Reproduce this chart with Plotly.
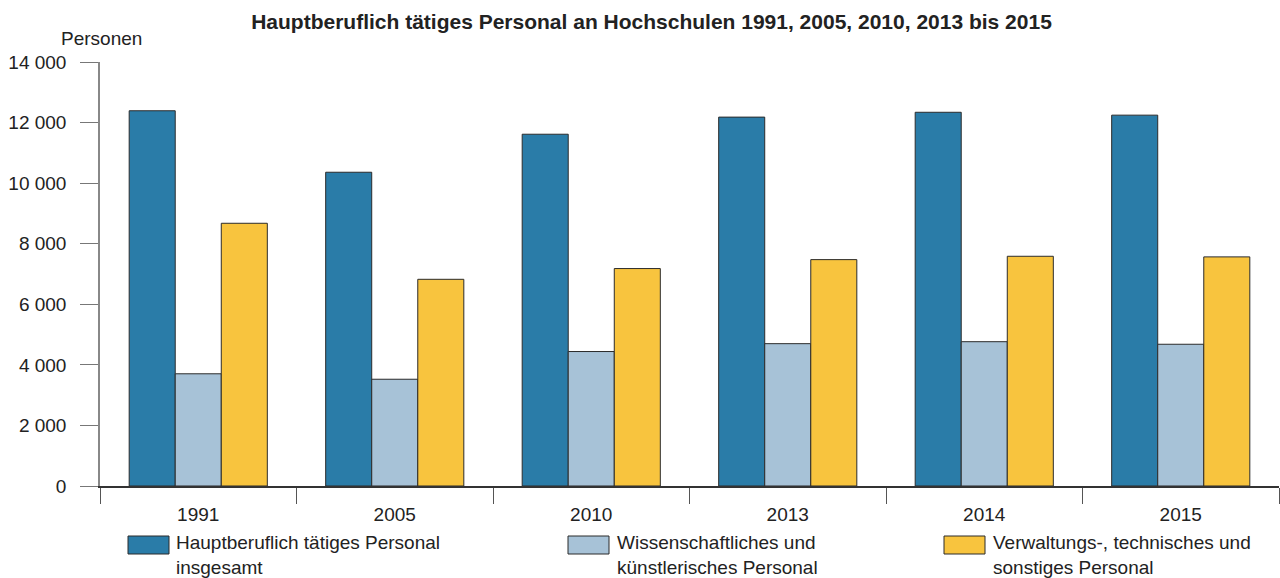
import plotly.graph_objects as go

# Daten (Personen)
jahre = ['1991', '2005', '2010', '2013', '2014', '2015']
insgesamt = [12390, 10360, 11615, 12180, 12340, 12245]
wissenschaftlich = [3705, 3525, 4440, 4700, 4765, 4680]
verwaltung = [8675, 6825, 7180, 7475, 7585, 7565]

serien = ['Hauptberuflich tätiges Personal<br>insgesamt',
          'Wissenschaftliches und<br>künstlerisches Personal',
          'Verwaltungs-, technisches und<br>sonstiges Personal']
farben = ['#2a7ca8', '#a7c2d7', '#f8c43e']

W, H = 1280, 578
L, R, T, B = 100, 1, 62, 92
FONT = 'Liberation Sans, Arial, sans-serif'
FS = 19


# Pixel -> paper coordinates
def px(x):
    return (x - L) / (W - L - R)


def py(y):
    return (H - B - y) / (H - T - B)


fig = go.Figure()
for name, vals, col in zip(serien, [insgesamt, wissenschaftlich, verwaltung], farben):
    fig.add_trace(go.Bar(x = jahre, y = vals, name = name,
                         marker = dict(color = col, line = dict(color = '#2b2b2b', width = 1)),
                         showlegend = False,
                         hovertemplate = '%{x}: %{y:,.0f}<extra></extra>'))

# Legende als Rechtecke + Text
shapes = []
annotations = []
for (x0, tx), name, col in zip([(128, 176), (568, 617), (944, 993)], serien, farben):
    shapes.append(dict(type = 'rect', xref = 'paper', yref = 'paper',
                       x0 = px(x0), x1 = px(x0 + 41), y0 = py(536), y1 = py(554),
                       fillcolor = col, line = dict(color = '#2b2b2b', width = 1)))
    annotations.append(dict(text = name, xref = 'paper', yref = 'paper',
                            x = px(tx - 2), y = py(530), xanchor = 'left', yanchor = 'top',
                            align = 'left', showarrow = False,
                            font = dict(size = FS, color = '#222222')))

annotations.append(dict(text = 'Personen', xref = 'paper', yref = 'paper',
                        x = px(101), y = py(38), xanchor = 'center', yanchor = 'middle',
                        showarrow = False, font = dict(size = FS, color = '#222222')))

fig.update_layout(width = W, height = H,
                  margin = dict(l = L, r = R, t = T, b = B),
                  paper_bgcolor = 'white', plot_bgcolor = 'white',
                  font = dict(family = FONT, size = FS, color = '#222222'),
                  separators = ', ',
                  title = dict(text = '<b>Hauptberuflich tätiges Personal an Hochschulen 1991, 2005, 2010, 2013 bis 2015</b>',
                               x = 651.5 / W, xanchor = 'center', y = 1 - 22 / H, yanchor = 'middle',
                               font = dict(size = 21, color = '#222222')),
                  barmode = 'group', bargap = 0.297, bargroupgap = 0,
                  shapes = shapes, annotations = annotations,
                  xaxis = dict(showline = True, linecolor = '#333333', linewidth = 1.5,
                               ticks = 'outside', tickson = 'boundaries', ticklen = 16,
                               tickcolor = '#555555', showgrid = False,
                               ticklabelstandoff = 10,
                               tickfont = dict(size = FS)),
                  yaxis = dict(range = [0, 14000], dtick = 2000, tickformat = ',d',
                               showline = True, linecolor = '#888888', linewidth = 1.5,
                               ticks = 'outside', ticklen = 18, tickcolor = '#777777',
                               ticklabelstandoff = 10,
                               showgrid = False, zeroline = False,
                               tickfont = dict(size = FS)))

fig.write_html("out.html", config = {'displayModeBar': False},
               post_script = "document.body.style.margin = '0';")
